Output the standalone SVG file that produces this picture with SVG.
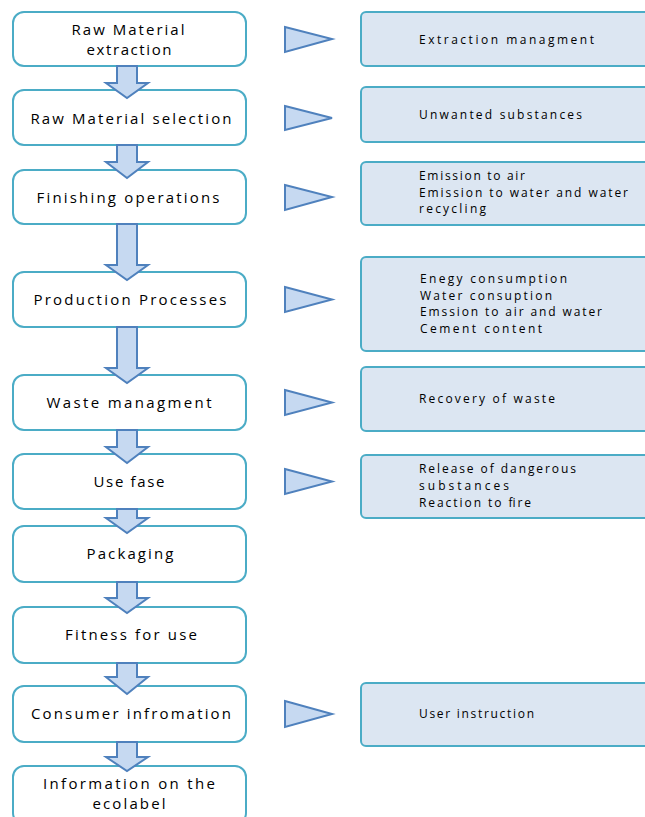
<svg xmlns="http://www.w3.org/2000/svg" width="645" height="817" viewBox="0 0 645 817">
<style>
.lb{fill:#ffffff;stroke:#4bacc6;stroke-width:2}
.rb{fill:#dce6f2;stroke:#4bacc6;stroke-width:2}
.ar{fill:#c6d9f1;stroke:#4f81bd;stroke-width:2;stroke-linejoin:miter}
.tri{fill:#c6d9f1;stroke:#4f81bd;stroke-width:2}
.lt{font-family:"Open Sans","DejaVu Sans",sans-serif;font-size:15px;fill:#000;text-anchor:middle}
.rt{font-family:"Open Sans","DejaVu Sans",sans-serif;font-size:12px;fill:#000}
</style>
<rect width="645" height="817" fill="#ffffff"/>
<g id="n1"><rect class="lb" x="13" y="12" width="233" height="54" rx="11"/>
<text class="lt" x="128" y="35" textLength="113" lengthAdjust="spacing">Raw Material</text>
<text class="lt" x="129" y="55" textLength="85" lengthAdjust="spacing">extraction</text></g>
<g id="n2"><rect class="lb" x="13" y="90" width="233" height="55" rx="11"/>
<text class="lt" x="131" y="124" textLength="201" lengthAdjust="spacing">Raw Material selection</text></g>
<g id="n3"><rect class="lb" x="13" y="170" width="233" height="54" rx="11"/>
<text class="lt" x="128" y="203" textLength="183" lengthAdjust="spacing">Finishing operations</text></g>
<g id="n4"><rect class="lb" x="13" y="272" width="233" height="55" rx="11"/>
<text class="lt" x="130" y="305" textLength="193" lengthAdjust="spacing">Production Processes</text></g>
<g id="n5"><rect class="lb" x="13" y="375" width="233" height="55" rx="11"/>
<text class="lt" x="129" y="408" textLength="165" lengthAdjust="spacing">Waste managment</text></g>
<g id="n6"><rect class="lb" x="13" y="454" width="233" height="55" rx="11"/>
<text class="lt" x="129" y="487" textLength="71" lengthAdjust="spacing">Use fase</text></g>
<g id="n7"><rect class="lb" x="13" y="526" width="233" height="56" rx="11"/>
<text class="lt" x="130" y="559" textLength="87" lengthAdjust="spacing">Packaging</text></g>
<g id="n8"><rect class="lb" x="13" y="607" width="233" height="56" rx="11"/>
<text class="lt" x="131" y="640" textLength="132" lengthAdjust="spacing">Fitness for use</text></g>
<g id="n9"><rect class="lb" x="13" y="686" width="233" height="56" rx="11"/>
<text class="lt" x="131" y="719" textLength="200" lengthAdjust="spacing">Consumer infromation</text></g>
<g id="n10"><rect class="lb" x="13" y="766" width="233" height="58" rx="11"/>
<text class="lt" x="129" y="789" textLength="172" lengthAdjust="spacing">Information on the</text>
<text class="lt" x="129" y="809" textLength="73" lengthAdjust="spacing">ecolabel</text></g>

<g id="r1"><rect class="rb" x="361" y="12" width="300" height="54" rx="5"/>
<text class="rt" x="419" y="44" textLength="175" lengthAdjust="spacing">Extraction managment</text></g>
<g id="r2"><rect class="rb" x="361" y="87" width="300" height="55" rx="5"/>
<text class="rt" x="419" y="119" textLength="163" lengthAdjust="spacing">Unwanted substances</text></g>
<g id="r3"><rect class="rb" x="361" y="162" width="300" height="63" rx="5"/>
<text class="rt" x="419" y="180" textLength="106" lengthAdjust="spacing">Emission to air</text>
<text class="rt" x="419" y="197" textLength="209" lengthAdjust="spacing">Emission to water and water</text>
<text class="rt" x="419" y="213" textLength="67" lengthAdjust="spacing">recycling</text></g>
<g id="r4"><rect class="rb" x="361" y="257" width="300" height="94" rx="5"/>
<text class="rt" x="420" y="283" textLength="147" lengthAdjust="spacing">Enegy consumption</text>
<text class="rt" x="420" y="300" textLength="132" lengthAdjust="spacing">Water consuption</text>
<text class="rt" x="420" y="316" textLength="182" lengthAdjust="spacing">Emssion to air  and water</text>
<text class="rt" x="420" y="333" textLength="122" lengthAdjust="spacing">Cement content</text></g>
<g id="r5"><rect class="rb" x="361" y="367" width="300" height="64" rx="5"/>
<text class="rt" x="419" y="403" textLength="136" lengthAdjust="spacing">Recovery of waste</text></g>
<g id="r6"><rect class="rb" x="361" y="455" width="300" height="63" rx="5"/>
<text class="rt" x="419" y="473" textLength="157" lengthAdjust="spacing">Release of dangerous</text>
<text class="rt" x="419" y="490" textLength="90" lengthAdjust="spacing">substances</text>
<text class="rt" x="419" y="507" textLength="112" lengthAdjust="spacing">Reaction to fire</text></g>
<g id="r7"><rect class="rb" x="361" y="683" width="300" height="63" rx="5"/>
<text class="rt" x="419" y="718" textLength="115" lengthAdjust="spacing">User instruction</text></g>

<g id="connectors">
<path class="ar" d="M117,66 H137 V83 H148 L127,98 L106,83 H117 Z"/>
<path class="ar" d="M117,145 H137 V162 H148 L127,178 L106,162 H117 Z"/>
<path class="ar" d="M117,224 H137 V265 H148 L127,280 L106,265 H117 Z"/>
<path class="ar" d="M117,327 H137 V368 H148 L127,383 L106,368 H117 Z"/>
<path class="ar" d="M117,430 H137 V447 H148 L127,463 L106,447 H117 Z"/>
<path class="ar" d="M117,509 H137 V518 H148 L127,533 L106,518 H117 Z"/>
<path class="ar" d="M117,582 H137 V598 H148 L127,613 L106,598 H117 Z"/>
<path class="ar" d="M117,663 H137 V677 H148 L127,694 L106,677 H117 Z"/>
<path class="ar" d="M117,742 H137 V757 H148 L127,771 L106,757 H117 Z"/>
<path class="tri" d="M285,27 L332,39 L285,52 Z"/>
<path class="tri" d="M285,106 L332,118 L285,130 Z"/>
<path class="tri" d="M285,185 L332,197 L285,210 Z"/>
<path class="tri" d="M285,287 L332,299.5 L285,312 Z"/>
<path class="tri" d="M285,390 L332,402.5 L285,415 Z"/>
<path class="tri" d="M285,469 L332,481.5 L285,494 Z"/>
<path class="tri" d="M285,701 L332,714 L285,727 Z"/>
</g>
</svg>
